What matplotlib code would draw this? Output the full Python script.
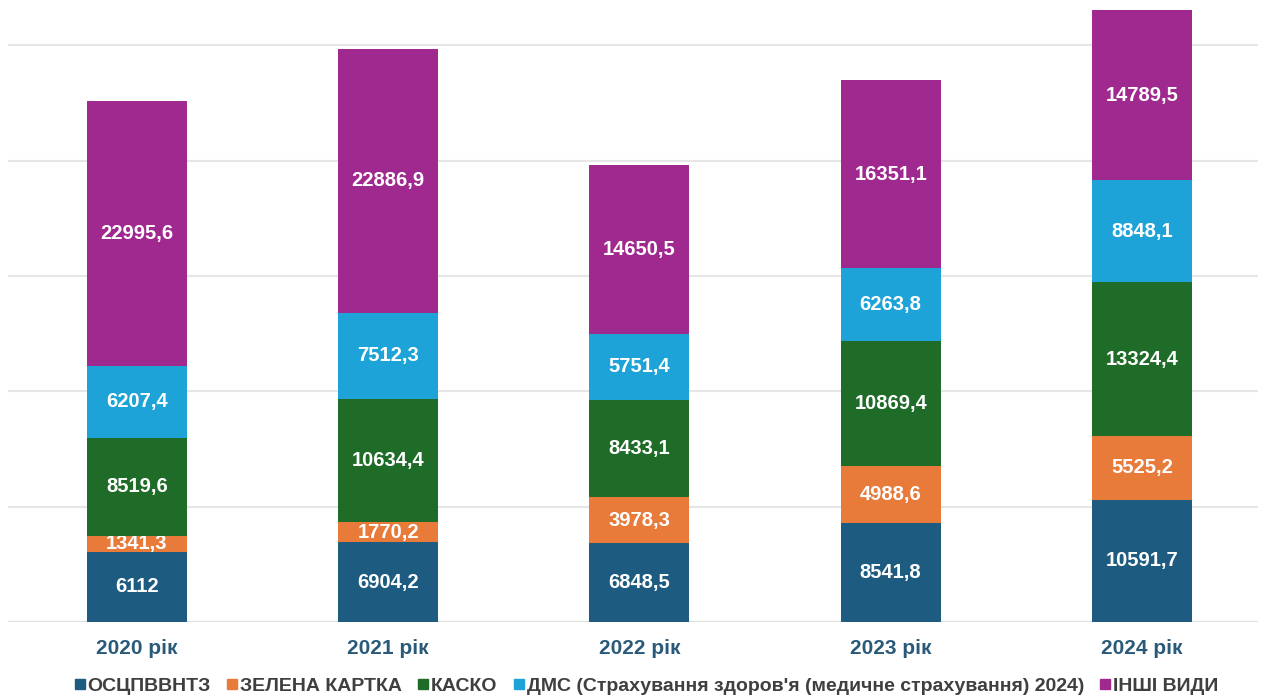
import matplotlib
matplotlib.use("Agg")
import matplotlib.pyplot as plt
from matplotlib.lines import Line2D

plt.rcParams['font.family'] = ['Liberation Sans', 'DejaVu Sans']

years = ["2020 рік", "2021 рік", "2022 рік", "2023 рік", "2024 рік"]
series_names = [
    "ОСЦПВВНТЗ",
    "ЗЕЛЕНА КАРТКА",
    "КАСКО",
    "ДМС (Страхування здоров'я (медичне страхування) 2024)",
    "ІНШІ ВИДИ",
]
oscpv = [6112, 6904.2, 6848.5, 8541.8, 10591.7]
green_card = [1341.3, 1770.2, 3978.3, 4988.6, 5525.2]
kasko = [8519.6, 10634.4, 8433.1, 10869.4, 13324.4]
dms = [6207.4, 7512.3, 5751.4, 6263.8, 8848.1]
other = [22995.6, 22886.9, 14650.5, 16351.1, 14789.5]

colors = ["#1d5b80", "#e87a3a", "#1f6b28", "#1ea3d8", "#a0298f"]


def fmt(v):
    if float(v).is_integer():
        return str(int(v))
    return f"{v:.1f}".replace(".", ",")


fig = plt.figure(figsize=(12.62, 6.99), dpi=100)
ax = fig.add_axes([8 / 1262, 77 / 699, 1250 / 1262, 617 / 699])

x = list(range(len(years)))
bottom = [0.0] * len(years)
for vals, col in zip([oscpv, green_card, kasko, dms, other], colors):
    bars = ax.bar(x, vals, width=0.398, bottom=bottom, color=col, zorder=3)
    ax.bar_label(bars, labels=[fmt(v) for v in vals], label_type="center",
                 color="white", fontsize=14.5, fontweight="bold")
    bottom = [b + v for b, v in zip(bottom, vals)]

ax.set_xlim(-0.513, 4.462)
ax.set_ylim(0, 53500)
ax.set_yticks([0, 10000, 20000, 30000, 40000, 50000])
ax.yaxis.grid(True, color="#e6e6e6", linewidth=1.5, zorder=0)
ax.set_axisbelow(True)
ax.tick_params(axis="y", left=False, labelleft=False)
ax.tick_params(axis="x", bottom=False, pad=9)
ax.set_xticks(x)
ax.set_xticklabels(years, fontsize=15, fontweight="bold", color="#2a5a7a")
for s in ax.spines.values():
    s.set_visible(False)
ax.axhline(0, color="#e0e0e0", linewidth=1.5, zorder=1)

handles = [Line2D([], [], marker="s", linestyle="none", markersize=7,
                  markerfacecolor=c, markeredgecolor=c) for c in colors]
fig.legend(handles, series_names, loc="center", bbox_to_anchor=(646 / 1262, 13 / 699),
           ncol=5, frameon=False, handlelength=0.6, handletextpad=0.1,
           columnspacing=0.8, prop={"size": 14, "weight": "bold"},
           labelcolor="#3f3f3f")

fig.savefig("out.png", dpi=100)
